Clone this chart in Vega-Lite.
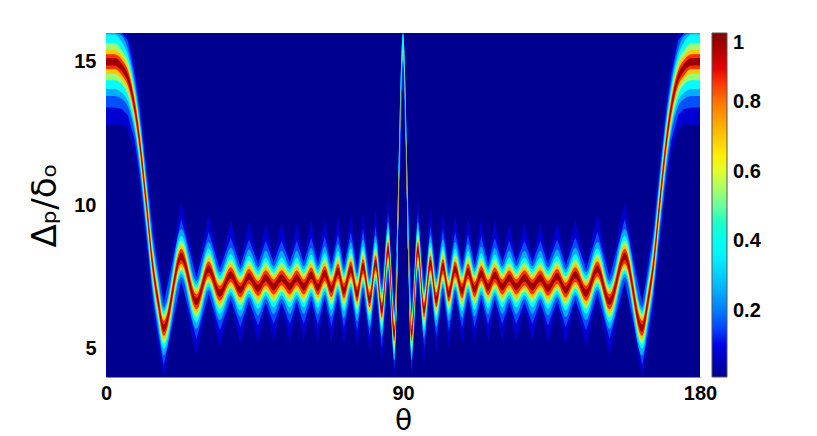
{"$schema":"https://vega.github.io/schema/vega-lite/v6.json","width":594,"height":344,"autosize":{"type":"none"},"padding":{"left":106,"top":33,"right":117,"bottom":59},"background":"white","view":{"fill":"#000090","stroke":null},
"config":{"font":"Liberation Sans","axis":{"grid":false,"ticks":false,"domain":false,"labelFont":"Liberation Sans","labelFontWeight":"bold","labelFontSize":20,"labelColor":"#000","titleColor":"#000","titleFont":"DejaVu Sans","titleFontWeight":"normal"}},
"data":{"values":[
{"t":0,"h1":16,"l1":12.8,"h2":16,"l2":13.4,"h3":16,"l3":13.8,"h4":15.95,"l4":14.05,"h5":15.65,"l5":14.35,"h6":15.42,"l6":14.58,"h7":15.26,"l7":14.74,"h8":15.13,"l8":14.87},
{"t":2.6,"h1":16,"l1":12.8,"h2":16,"l2":13.4,"h3":16,"l3":13.8,"h4":15.95,"l4":14.05,"h5":15.65,"l5":14.35,"h6":15.42,"l6":14.58,"h7":15.26,"l7":14.74,"h8":15.13,"l8":14.87},
{"t":4.8,"h1":16,"l1":12.8,"h2":16,"l2":13.35,"h3":15.9,"l3":13.7,"h4":15.68,"l4":13.92,"h5":15.4,"l5":14.2,"h6":15.22,"l6":14.38,"h7":15.07,"l7":14.53,"h8":14.93,"l8":14.67},
{"t":6.6,"h1":16,"l1":12.64,"h2":15.74,"l2":13.14,"h3":15.44,"l3":13.44,"h4":15.24,"l4":13.64,"h5":15.02,"l5":13.86,"h6":14.84,"l6":14.04,"h7":14.71,"l7":14.17,"h8":14.57,"l8":14.31},
{"t":8.7,"h1":15,"l1":11.8,"h2":14.55,"l2":12.25,"h3":14.28,"l3":12.52,"h4":14.12,"l4":12.68,"h5":13.95,"l5":12.85,"h6":13.8,"l6":13,"h7":13.67,"l7":13.13,"h8":13.53,"l8":13.27},
{"t":10.2,"h1":13.8,"l1":10.6,"h2":13.35,"l2":11.05,"h3":13.08,"l3":11.32,"h4":12.92,"l4":11.48,"h5":12.75,"l5":11.65,"h6":12.6,"l6":11.8,"h7":12.47,"l7":11.93,"h8":12.33,"l8":12.07},
{"t":12.2,"h1":11.68,"l1":8.48,"h2":11.23,"l2":8.93,"h3":10.96,"l3":9.2,"h4":10.8,"l4":9.36,"h5":10.63,"l5":9.53,"h6":10.48,"l6":9.68,"h7":10.35,"l7":9.81,"h8":10.21,"l8":9.95},
{"t":14.2,"h1":9.44,"l1":6.24,"h2":8.99,"l2":6.69,"h3":8.72,"l3":6.96,"h4":8.56,"l4":7.12,"h5":8.39,"l5":7.29,"h6":8.24,"l6":7.44,"h7":8.11,"l7":7.57,"h8":7.97,"l8":7.71},
{"t":15.7,"h1":8.3,"l1":5.1,"h2":7.85,"l2":5.55,"h3":7.58,"l3":5.82,"h4":7.42,"l4":5.98,"h5":7.25,"l5":6.15,"h6":7.1,"l6":6.3,"h7":6.97,"l7":6.43,"h8":6.83,"l8":6.57},
{"t":17.5,"h1":6.71,"l1":4,"h2":6.56,"l2":4.41,"h3":6.43,"l3":4.76,"h4":6.31,"l4":4.99,"h5":6.19,"l5":5.16,"h6":6.07,"l6":5.31,"h7":5.96,"l7":5.44,"h8":5.83,"l8":5.58},
{"t":22.8,"h1":10.1,"l1":7.2,"h2":9.5,"l2":7.35,"h3":9.15,"l3":7.48,"h4":8.92,"l4":7.6,"h5":8.75,"l5":7.72,"h6":8.6,"l6":7.84,"h7":8.47,"l7":7.95,"h8":8.33,"l8":8.08},
{"t":27.4,"h1":7.63,"l1":4.73,"h2":7.48,"l2":5.33,"h3":7.35,"l3":5.68,"h4":7.23,"l4":5.91,"h5":7.11,"l5":6.08,"h6":6.99,"l6":6.23,"h7":6.88,"l7":6.36,"h8":6.75,"l8":6.5},
{"t":31.1,"h1":9.66,"l1":6.76,"h2":9.06,"l2":6.91,"h3":8.71,"l3":7.04,"h4":8.48,"l4":7.16,"h5":8.31,"l5":7.28,"h6":8.16,"l6":7.4,"h7":8.03,"l7":7.51,"h8":7.89,"l8":7.64},
{"t":34.5,"h1":7.93,"l1":5.03,"h2":7.78,"l2":5.63,"h3":7.65,"l3":5.98,"h4":7.53,"l4":6.21,"h5":7.41,"l5":6.38,"h6":7.29,"l6":6.53,"h7":7.18,"l7":6.66,"h8":7.05,"l8":6.8},
{"t":37.8,"h1":9.46,"l1":6.56,"h2":8.86,"l2":6.71,"h3":8.51,"l3":6.84,"h4":8.28,"l4":6.96,"h5":8.11,"l5":7.08,"h6":7.96,"l6":7.2,"h7":7.83,"l7":7.31,"h8":7.69,"l8":7.44},
{"t":40.7,"h1":8.04,"l1":5.14,"h2":7.89,"l2":5.74,"h3":7.76,"l3":6.09,"h4":7.64,"l4":6.32,"h5":7.52,"l5":6.49,"h6":7.4,"l6":6.64,"h7":7.29,"l7":6.77,"h8":7.16,"l8":6.91},
{"t":43.3,"h1":9.4,"l1":6.5,"h2":8.8,"l2":6.65,"h3":8.45,"l3":6.78,"h4":8.22,"l4":6.9,"h5":8.05,"l5":7.02,"h6":7.9,"l6":7.14,"h7":7.77,"l7":7.25,"h8":7.63,"l8":7.38},
{"t":46.1,"h1":8.1,"l1":5.2,"h2":7.95,"l2":5.8,"h3":7.82,"l3":6.15,"h4":7.7,"l4":6.38,"h5":7.58,"l5":6.55,"h6":7.46,"l6":6.7,"h7":7.35,"l7":6.83,"h8":7.22,"l8":6.97},
{"t":48.4,"h1":9.35,"l1":6.45,"h2":8.75,"l2":6.6,"h3":8.4,"l3":6.73,"h4":8.17,"l4":6.85,"h5":8,"l5":6.97,"h6":7.85,"l6":7.09,"h7":7.72,"l7":7.2,"h8":7.58,"l8":7.33},
{"t":50.8,"h1":8.15,"l1":5.25,"h2":8,"l2":5.85,"h3":7.87,"l3":6.2,"h4":7.75,"l4":6.43,"h5":7.63,"l5":6.6,"h6":7.51,"l6":6.75,"h7":7.4,"l7":6.88,"h8":7.27,"l8":7.02},
{"t":53.2,"h1":9.35,"l1":6.45,"h2":8.75,"l2":6.6,"h3":8.4,"l3":6.73,"h4":8.17,"l4":6.85,"h5":8,"l5":6.97,"h6":7.85,"l6":7.09,"h7":7.72,"l7":7.2,"h8":7.58,"l8":7.33},
{"t":55.7,"h1":8.15,"l1":5.25,"h2":8,"l2":5.85,"h3":7.87,"l3":6.2,"h4":7.75,"l4":6.43,"h5":7.63,"l5":6.6,"h6":7.51,"l6":6.75,"h7":7.4,"l7":6.88,"h8":7.27,"l8":7.02},
{"t":57.8,"h1":9.35,"l1":6.45,"h2":8.75,"l2":6.6,"h3":8.4,"l3":6.73,"h4":8.17,"l4":6.85,"h5":8,"l5":6.97,"h6":7.85,"l6":7.09,"h7":7.72,"l7":7.2,"h8":7.58,"l8":7.33},
{"t":59.9,"h1":8.15,"l1":5.25,"h2":8,"l2":5.85,"h3":7.87,"l3":6.2,"h4":7.75,"l4":6.43,"h5":7.63,"l5":6.6,"h6":7.51,"l6":6.75,"h7":7.4,"l7":6.88,"h8":7.27,"l8":7.02},
{"t":62.2,"h1":9.45,"l1":6.55,"h2":8.85,"l2":6.7,"h3":8.5,"l3":6.83,"h4":8.27,"l4":6.95,"h5":8.1,"l5":7.07,"h6":7.95,"l6":7.19,"h7":7.82,"l7":7.3,"h8":7.68,"l8":7.43},
{"t":64.2,"h1":8.13,"l1":5.23,"h2":7.98,"l2":5.83,"h3":7.85,"l3":6.18,"h4":7.73,"l4":6.41,"h5":7.61,"l5":6.58,"h6":7.49,"l6":6.73,"h7":7.38,"l7":6.86,"h8":7.25,"l8":7},
{"t":66.3,"h1":9.5,"l1":6.6,"h2":8.9,"l2":6.75,"h3":8.55,"l3":6.88,"h4":8.32,"l4":7,"h5":8.15,"l5":7.12,"h6":8,"l6":7.24,"h7":7.87,"l7":7.35,"h8":7.73,"l8":7.48},
{"t":68.3,"h1":8.06,"l1":5.16,"h2":7.91,"l2":5.76,"h3":7.78,"l3":6.11,"h4":7.66,"l4":6.34,"h5":7.54,"l5":6.51,"h6":7.42,"l6":6.66,"h7":7.31,"l7":6.79,"h8":7.18,"l8":6.93},
{"t":70.3,"h1":9.58,"l1":6.68,"h2":8.98,"l2":6.83,"h3":8.63,"l3":6.96,"h4":8.4,"l4":7.08,"h5":8.23,"l5":7.2,"h6":8.08,"l6":7.32,"h7":7.95,"l7":7.43,"h8":7.81,"l8":7.56},
{"t":72.1,"h1":8.02,"l1":5.12,"h2":7.87,"l2":5.72,"h3":7.74,"l3":6.07,"h4":7.62,"l4":6.3,"h5":7.5,"l5":6.47,"h6":7.38,"l6":6.62,"h7":7.27,"l7":6.75,"h8":7.14,"l8":6.89},
{"t":74.2,"h1":9.66,"l1":6.76,"h2":9.06,"l2":6.91,"h3":8.71,"l3":7.04,"h4":8.48,"l4":7.16,"h5":8.31,"l5":7.28,"h6":8.16,"l6":7.4,"h7":8.03,"l7":7.51,"h8":7.89,"l8":7.64},
{"t":76.1,"h1":7.9,"l1":5,"h2":7.75,"l2":5.6,"h3":7.62,"l3":5.95,"h4":7.5,"l4":6.18,"h5":7.38,"l5":6.35,"h6":7.26,"l6":6.5,"h7":7.15,"l7":6.63,"h8":7.02,"l8":6.77},
{"t":77.9,"h1":9.75,"l1":6.85,"h2":9.15,"l2":7,"h3":8.8,"l3":7.13,"h4":8.57,"l4":7.25,"h5":8.4,"l5":7.37,"h6":8.25,"l6":7.49,"h7":8.12,"l7":7.6,"h8":7.98,"l8":7.73},
{"t":79.9,"h1":7.7,"l1":4.8,"h2":7.55,"l2":5.4,"h3":7.42,"l3":5.75,"h4":7.3,"l4":5.98,"h5":7.18,"l5":6.15,"h6":7.06,"l6":6.3,"h7":6.95,"l7":6.43,"h8":6.82,"l8":6.57},
{"t":81.7,"h1":9.87,"l1":6.97,"h2":9.27,"l2":7.12,"h3":8.92,"l3":7.25,"h4":8.69,"l4":7.37,"h5":8.52,"l5":7.49,"h6":8.37,"l6":7.61,"h7":8.24,"l7":7.72,"h8":8.1,"l8":7.85},
{"t":83.6,"h1":7.34,"l1":4.44,"h2":7.19,"l2":5.04,"h3":7.06,"l3":5.39,"h4":6.94,"l4":5.62,"h5":6.82,"l5":5.79,"h6":6.7,"l6":5.94,"h7":6.59,"l7":6.07,"h8":6.46,"l8":6.21},
{"t":85.5,"h1":10.34,"l1":7.44,"h2":9.74,"l2":7.59,"h3":9.39,"l3":7.72,"h4":9.16,"l4":7.84,"h5":8.99,"l5":7.96,"h6":8.84,"l6":8.08,"h7":8.71,"l7":8.19,"h8":8.57,"l8":8.32},
{"t":87.4,"h1":6.53,"l1":4,"h2":6.38,"l2":4.23,"h3":6.25,"l3":4.58,"h4":6.13,"l4":4.81,"h5":6.01,"l5":4.98,"h6":5.89,"l6":5.13,"h7":5.78,"l7":5.26,"h8":5.65,"l8":5.4},
{"t":90,"h1":16,"l1":14.8,"h2":16,"l2":14.95,"h3":16,"l3":15.08,"h4":16,"l4":15.2,"h5":15.4,"l5":15.3,"h6":15.35,"l6":15.3,"h7":15.32,"l7":15.3,"h8":15.31,"l8":15.3},
{"t":92.6,"h1":6.53,"l1":4,"h2":6.38,"l2":4.23,"h3":6.25,"l3":4.58,"h4":6.13,"l4":4.81,"h5":6.01,"l5":4.98,"h6":5.89,"l6":5.13,"h7":5.78,"l7":5.26,"h8":5.65,"l8":5.4},
{"t":94.5,"h1":10.34,"l1":7.44,"h2":9.74,"l2":7.59,"h3":9.39,"l3":7.72,"h4":9.16,"l4":7.84,"h5":8.99,"l5":7.96,"h6":8.84,"l6":8.08,"h7":8.71,"l7":8.19,"h8":8.57,"l8":8.32},
{"t":96.4,"h1":7.34,"l1":4.44,"h2":7.19,"l2":5.04,"h3":7.06,"l3":5.39,"h4":6.94,"l4":5.62,"h5":6.82,"l5":5.79,"h6":6.7,"l6":5.94,"h7":6.59,"l7":6.07,"h8":6.46,"l8":6.21},
{"t":98.3,"h1":9.87,"l1":6.97,"h2":9.27,"l2":7.12,"h3":8.92,"l3":7.25,"h4":8.69,"l4":7.37,"h5":8.52,"l5":7.49,"h6":8.37,"l6":7.61,"h7":8.24,"l7":7.72,"h8":8.1,"l8":7.85},
{"t":100.1,"h1":7.7,"l1":4.8,"h2":7.55,"l2":5.4,"h3":7.42,"l3":5.75,"h4":7.3,"l4":5.98,"h5":7.18,"l5":6.15,"h6":7.06,"l6":6.3,"h7":6.95,"l7":6.43,"h8":6.82,"l8":6.57},
{"t":102.1,"h1":9.75,"l1":6.85,"h2":9.15,"l2":7,"h3":8.8,"l3":7.13,"h4":8.57,"l4":7.25,"h5":8.4,"l5":7.37,"h6":8.25,"l6":7.49,"h7":8.12,"l7":7.6,"h8":7.98,"l8":7.73},
{"t":103.9,"h1":7.9,"l1":5,"h2":7.75,"l2":5.6,"h3":7.62,"l3":5.95,"h4":7.5,"l4":6.18,"h5":7.38,"l5":6.35,"h6":7.26,"l6":6.5,"h7":7.15,"l7":6.63,"h8":7.02,"l8":6.77},
{"t":105.8,"h1":9.66,"l1":6.76,"h2":9.06,"l2":6.91,"h3":8.71,"l3":7.04,"h4":8.48,"l4":7.16,"h5":8.31,"l5":7.28,"h6":8.16,"l6":7.4,"h7":8.03,"l7":7.51,"h8":7.89,"l8":7.64},
{"t":107.9,"h1":8.02,"l1":5.12,"h2":7.87,"l2":5.72,"h3":7.74,"l3":6.07,"h4":7.62,"l4":6.3,"h5":7.5,"l5":6.47,"h6":7.38,"l6":6.62,"h7":7.27,"l7":6.75,"h8":7.14,"l8":6.89},
{"t":109.7,"h1":9.58,"l1":6.68,"h2":8.98,"l2":6.83,"h3":8.63,"l3":6.96,"h4":8.4,"l4":7.08,"h5":8.23,"l5":7.2,"h6":8.08,"l6":7.32,"h7":7.95,"l7":7.43,"h8":7.81,"l8":7.56},
{"t":111.7,"h1":8.06,"l1":5.16,"h2":7.91,"l2":5.76,"h3":7.78,"l3":6.11,"h4":7.66,"l4":6.34,"h5":7.54,"l5":6.51,"h6":7.42,"l6":6.66,"h7":7.31,"l7":6.79,"h8":7.18,"l8":6.93},
{"t":113.7,"h1":9.5,"l1":6.6,"h2":8.9,"l2":6.75,"h3":8.55,"l3":6.88,"h4":8.32,"l4":7,"h5":8.15,"l5":7.12,"h6":8,"l6":7.24,"h7":7.87,"l7":7.35,"h8":7.73,"l8":7.48},
{"t":115.8,"h1":8.13,"l1":5.23,"h2":7.98,"l2":5.83,"h3":7.85,"l3":6.18,"h4":7.73,"l4":6.41,"h5":7.61,"l5":6.58,"h6":7.49,"l6":6.73,"h7":7.38,"l7":6.86,"h8":7.25,"l8":7},
{"t":117.8,"h1":9.45,"l1":6.55,"h2":8.85,"l2":6.7,"h3":8.5,"l3":6.83,"h4":8.27,"l4":6.95,"h5":8.1,"l5":7.07,"h6":7.95,"l6":7.19,"h7":7.82,"l7":7.3,"h8":7.68,"l8":7.43},
{"t":120.1,"h1":8.15,"l1":5.25,"h2":8,"l2":5.85,"h3":7.87,"l3":6.2,"h4":7.75,"l4":6.43,"h5":7.63,"l5":6.6,"h6":7.51,"l6":6.75,"h7":7.4,"l7":6.88,"h8":7.27,"l8":7.02},
{"t":122.2,"h1":9.35,"l1":6.45,"h2":8.75,"l2":6.6,"h3":8.4,"l3":6.73,"h4":8.17,"l4":6.85,"h5":8,"l5":6.97,"h6":7.85,"l6":7.09,"h7":7.72,"l7":7.2,"h8":7.58,"l8":7.33},
{"t":124.3,"h1":8.15,"l1":5.25,"h2":8,"l2":5.85,"h3":7.87,"l3":6.2,"h4":7.75,"l4":6.43,"h5":7.63,"l5":6.6,"h6":7.51,"l6":6.75,"h7":7.4,"l7":6.88,"h8":7.27,"l8":7.02},
{"t":126.8,"h1":9.35,"l1":6.45,"h2":8.75,"l2":6.6,"h3":8.4,"l3":6.73,"h4":8.17,"l4":6.85,"h5":8,"l5":6.97,"h6":7.85,"l6":7.09,"h7":7.72,"l7":7.2,"h8":7.58,"l8":7.33},
{"t":129.2,"h1":8.15,"l1":5.25,"h2":8,"l2":5.85,"h3":7.87,"l3":6.2,"h4":7.75,"l4":6.43,"h5":7.63,"l5":6.6,"h6":7.51,"l6":6.75,"h7":7.4,"l7":6.88,"h8":7.27,"l8":7.02},
{"t":131.6,"h1":9.35,"l1":6.45,"h2":8.75,"l2":6.6,"h3":8.4,"l3":6.73,"h4":8.17,"l4":6.85,"h5":8,"l5":6.97,"h6":7.85,"l6":7.09,"h7":7.72,"l7":7.2,"h8":7.58,"l8":7.33},
{"t":133.9,"h1":8.1,"l1":5.2,"h2":7.95,"l2":5.8,"h3":7.82,"l3":6.15,"h4":7.7,"l4":6.38,"h5":7.58,"l5":6.55,"h6":7.46,"l6":6.7,"h7":7.35,"l7":6.83,"h8":7.22,"l8":6.97},
{"t":136.7,"h1":9.4,"l1":6.5,"h2":8.8,"l2":6.65,"h3":8.45,"l3":6.78,"h4":8.22,"l4":6.9,"h5":8.05,"l5":7.02,"h6":7.9,"l6":7.14,"h7":7.77,"l7":7.25,"h8":7.63,"l8":7.38},
{"t":139.3,"h1":8.04,"l1":5.14,"h2":7.89,"l2":5.74,"h3":7.76,"l3":6.09,"h4":7.64,"l4":6.32,"h5":7.52,"l5":6.49,"h6":7.4,"l6":6.64,"h7":7.29,"l7":6.77,"h8":7.16,"l8":6.91},
{"t":142.2,"h1":9.46,"l1":6.56,"h2":8.86,"l2":6.71,"h3":8.51,"l3":6.84,"h4":8.28,"l4":6.96,"h5":8.11,"l5":7.08,"h6":7.96,"l6":7.2,"h7":7.83,"l7":7.31,"h8":7.69,"l8":7.44},
{"t":145.5,"h1":7.93,"l1":5.03,"h2":7.78,"l2":5.63,"h3":7.65,"l3":5.98,"h4":7.53,"l4":6.21,"h5":7.41,"l5":6.38,"h6":7.29,"l6":6.53,"h7":7.18,"l7":6.66,"h8":7.05,"l8":6.8},
{"t":148.9,"h1":9.66,"l1":6.76,"h2":9.06,"l2":6.91,"h3":8.71,"l3":7.04,"h4":8.48,"l4":7.16,"h5":8.31,"l5":7.28,"h6":8.16,"l6":7.4,"h7":8.03,"l7":7.51,"h8":7.89,"l8":7.64},
{"t":152.6,"h1":7.63,"l1":4.73,"h2":7.48,"l2":5.33,"h3":7.35,"l3":5.68,"h4":7.23,"l4":5.91,"h5":7.11,"l5":6.08,"h6":6.99,"l6":6.23,"h7":6.88,"l7":6.36,"h8":6.75,"l8":6.5},
{"t":157.2,"h1":10.1,"l1":7.2,"h2":9.5,"l2":7.35,"h3":9.15,"l3":7.48,"h4":8.92,"l4":7.6,"h5":8.75,"l5":7.72,"h6":8.6,"l6":7.84,"h7":8.47,"l7":7.95,"h8":8.33,"l8":8.08},
{"t":162.5,"h1":6.71,"l1":4,"h2":6.56,"l2":4.41,"h3":6.43,"l3":4.76,"h4":6.31,"l4":4.99,"h5":6.19,"l5":5.16,"h6":6.07,"l6":5.31,"h7":5.96,"l7":5.44,"h8":5.83,"l8":5.58},
{"t":164.3,"h1":8.3,"l1":5.1,"h2":7.85,"l2":5.55,"h3":7.58,"l3":5.82,"h4":7.42,"l4":5.98,"h5":7.25,"l5":6.15,"h6":7.1,"l6":6.3,"h7":6.97,"l7":6.43,"h8":6.83,"l8":6.57},
{"t":165.8,"h1":9.44,"l1":6.24,"h2":8.99,"l2":6.69,"h3":8.72,"l3":6.96,"h4":8.56,"l4":7.12,"h5":8.39,"l5":7.29,"h6":8.24,"l6":7.44,"h7":8.11,"l7":7.57,"h8":7.97,"l8":7.71},
{"t":167.8,"h1":11.68,"l1":8.48,"h2":11.23,"l2":8.93,"h3":10.96,"l3":9.2,"h4":10.8,"l4":9.36,"h5":10.63,"l5":9.53,"h6":10.48,"l6":9.68,"h7":10.35,"l7":9.81,"h8":10.21,"l8":9.95},
{"t":169.8,"h1":13.8,"l1":10.6,"h2":13.35,"l2":11.05,"h3":13.08,"l3":11.32,"h4":12.92,"l4":11.48,"h5":12.75,"l5":11.65,"h6":12.6,"l6":11.8,"h7":12.47,"l7":11.93,"h8":12.33,"l8":12.07},
{"t":171.3,"h1":15,"l1":11.8,"h2":14.55,"l2":12.25,"h3":14.28,"l3":12.52,"h4":14.12,"l4":12.68,"h5":13.95,"l5":12.85,"h6":13.8,"l6":13,"h7":13.67,"l7":13.13,"h8":13.53,"l8":13.27},
{"t":173.4,"h1":16,"l1":12.64,"h2":15.74,"l2":13.14,"h3":15.44,"l3":13.44,"h4":15.24,"l4":13.64,"h5":15.02,"l5":13.86,"h6":14.84,"l6":14.04,"h7":14.71,"l7":14.17,"h8":14.57,"l8":14.31},
{"t":175.2,"h1":16,"l1":12.8,"h2":16,"l2":13.35,"h3":15.9,"l3":13.7,"h4":15.68,"l4":13.92,"h5":15.4,"l5":14.2,"h6":15.22,"l6":14.38,"h7":15.07,"l7":14.53,"h8":14.93,"l8":14.67},
{"t":177.4,"h1":16,"l1":12.8,"h2":16,"l2":13.4,"h3":16,"l3":13.8,"h4":15.95,"l4":14.05,"h5":15.65,"l5":14.35,"h6":15.42,"l6":14.58,"h7":15.26,"l7":14.74,"h8":15.13,"l8":14.87},
{"t":180,"h1":16,"l1":12.8,"h2":16,"l2":13.4,"h3":16,"l3":13.8,"h4":15.95,"l4":14.05,"h5":15.65,"l5":14.35,"h6":15.42,"l6":14.58,"h7":15.26,"l7":14.74,"h8":15.13,"l8":14.87}
]},
"encoding":{"x":{"field":"t","type":"quantitative","title":"θ","scale":{"domain":[0,180],"nice":false,"zero":false},"axis":{"values":[0,90,180],"labelPadding":6,"titleY":30,"titleFontSize":28,"labelFlush":false,"domain":true,"domainColor":"#888","domainWidth":1}}},
"layer":[
{"mark":{"type":"area","clip":true},"encoding":{"y":{"field":"h1","type":"quantitative","title":"Δₚ/δₒ","scale":{"domain":[4,16],"nice":false,"zero":false},"axis":{"values":[5,10,15],"labelPadding":10,"titleX":-44,"titleFontSize":34}},"y2":{"field":"l1"},"color":{"datum":0.08,"type":"quantitative","title":null,"scale":{"domain":[0.01,0.125,0.375,0.625,0.875,1],"range":["#000090","#0000ff","#00ffff","#ffff00","#ff0000","#800000"]},"legend":{"orient":"none","legendX":606,"legendY":0,"gradientLength":344,"gradientThickness":15,"values":[0.2,0.4,0.6,0.8,1],"format":"~g","labelFont":"Liberation Sans","labelFontWeight":"bold","labelFontSize":20,"labelColor":"#000","labelOffset":6,"gradientStrokeColor":"#555","gradientStrokeWidth":1}}}},
{"mark":{"type":"area","clip":true},"encoding":{"y":{"field":"h2","type":"quantitative","title":"Δₚ/δₒ"},"y2":{"field":"l2"},"color":{"datum":0.16,"type":"quantitative"}}},
{"mark":{"type":"area","clip":true,"interpolate":"monotone"},"encoding":{"y":{"field":"h3","type":"quantitative","title":"Δₚ/δₒ"},"y2":{"field":"l3"},"color":{"datum":0.26,"type":"quantitative"}}},
{"mark":{"type":"area","clip":true,"interpolate":"monotone"},"encoding":{"y":{"field":"h4","type":"quantitative","title":"Δₚ/δₒ"},"y2":{"field":"l4"},"color":{"datum":0.38,"type":"quantitative"}}},
{"mark":{"type":"area","clip":true,"interpolate":"monotone"},"encoding":{"y":{"field":"h5","type":"quantitative","title":"Δₚ/δₒ"},"y2":{"field":"l5"},"color":{"datum":0.54,"type":"quantitative"}}},
{"mark":{"type":"area","clip":true,"interpolate":"monotone"},"encoding":{"y":{"field":"h6","type":"quantitative","title":"Δₚ/δₒ"},"y2":{"field":"l6"},"color":{"datum":0.7,"type":"quantitative"}}},
{"mark":{"type":"area","clip":true,"interpolate":"monotone"},"encoding":{"y":{"field":"h7","type":"quantitative","title":"Δₚ/δₒ"},"y2":{"field":"l7"},"color":{"datum":0.86,"type":"quantitative"}}},
{"mark":{"type":"area","clip":true,"interpolate":"monotone"},"encoding":{"y":{"field":"h8","type":"quantitative","title":"Δₚ/δₒ"},"y2":{"field":"l8"},"color":{"datum":0.97,"type":"quantitative"}}}
]}
